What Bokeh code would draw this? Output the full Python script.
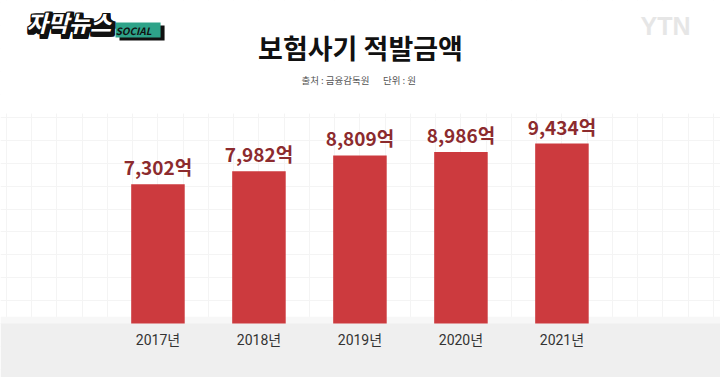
from bokeh.plotting import figure
from bokeh.models import ColumnDataSource, Range1d, Label, BoxAnnotation, Grid, SingleIntervalTicker
from bokeh.core.properties import value
from bokeh.embed import file_html
from bokeh.resources import INLINE

# ---- data ----
years = ["2017년", "2018년", "2019년", "2020년", "2021년"]
amounts = [7302, 7982, 8809, 8986, 9434]   # 억 원
value_labels = [f"{v:,}억" for v in amounts]
title_text = "보험사기 적발금액"
source_text = "출처 : 금융감독원"
unit_text = "단위 : 원"

W, H = 720, 377
KR = "Noto Sans CJK KR, Noto Sans, sans-serif"
YR = "Roboto, Noto Sans CJK KR, sans-serif"

src = ColumnDataSource(dict(x=list(range(len(years))), year=years, amount=amounts, lab=value_labels))

p = figure(width=W, height=H, output_backend="svg", toolbar_location=None,
           x_range=Range1d(-1.559, 5.570), y_range=Range1d(-2830, 16929),
           x_axis_type=None, y_axis_type=None, min_border=0,
           background_fill_color="white", border_fill_color="white",
           outline_line_color=None)
p.grid.visible = False

# faint background grid
gx = Grid(dimension=0, ticker=SingleIntervalTicker(interval=0.25), grid_line_color="#f4f4f4", level="image")
gy = Grid(dimension=1, ticker=SingleIntervalTicker(interval=1200), grid_line_color="#f4f4f4", level="image")
p.add_layout(gx)
p.add_layout(gy)
p.add_layout(BoxAnnotation(bottom=11000, fill_color="white", fill_alpha=1, line_color=None, level="underlay"))
p.add_layout(BoxAnnotation(bottom=0, top=350, fill_color="#f7f7f7", fill_alpha=1, line_color=None, level="underlay"))
p.add_layout(BoxAnnotation(top=0, fill_color="#efefef", fill_alpha=1, line_color=None, level="underlay"))

# bars
p.vbar(x="x", top="amount", bottom=0, width=0.53, source=src, fill_color="#cc3a3e", line_color=None)

# value labels
p.text(x="x", y="amount", text="lab", source=src, text_align="center", text_baseline="bottom",
       y_offset=-4, text_font=value(KR), text_font_size="19px", text_font_style="bold",
       text_color="#8c2b2e")

# year labels
p.text(x="x", y=0, text="year", source=src, text_align="center", text_baseline="top",
       y_offset=8, text_font=value(YR), text_font_size="14px", text_color="#333333")

def add_label(text, xs, ys, **kw):
    p.add_layout(Label(x=xs, y=H - ys, x_units="screen", y_units="screen", text=text, **kw))

# title & subtitle
add_label(title_text, 360, 47, text_align="center", text_baseline="middle", text_font=KR,
          text_font_size="27px", text_font_style="bold", text_color="#111111")
add_label(source_text, 335, 79, text_align="center", text_baseline="middle", text_font=KR,
          text_font_size="9.5px", text_color="#555555")
add_label(unit_text, 399, 79, text_align="center", text_baseline="middle", text_font=KR,
          text_font_size="9.5px", text_color="#555555")

# YTN watermark
add_label("YTN", 640, 25, text_align="left", text_baseline="alphabetic", text_font="Liberation Sans",
          text_font_size="25px", text_font_style="bold", text_color="#e6e6e6")

# logo: SOCIAL badge with shadow
add_label("  SOCIAL  ", 119, 25, text_align="left", text_baseline="top", text_font=KR,
          text_font_size="10px", text_font_style="bold italic", text_color="#111111",
          background_fill_color="#111111")
add_label("  SOCIAL  ", 115, 22, text_align="left", text_baseline="top", text_font=KR,
          text_font_size="10px", text_font_style="bold italic", text_color="#111111",
          background_fill_color="#2ea389")

# logo: 자막뉴스 with black 3D shadow
for dx in (-1, 0, 1, 2, 3, 4):
    for dy in (-1, 0, 1, 2, 3, 4, 5):
        add_label("자막뉴스", 26 + dx, 4 + dy, text_align="left", text_baseline="top", text_font=KR,
                  text_font_size="23px", text_font_style="bold italic", text_color="#111111")
add_label("자막뉴스", 26, 4, text_align="left", text_baseline="top", text_font=KR,
          text_font_size="23px", text_font_style="bold italic", text_color="white")

open("out.html", "w").write(file_html(p, INLINE))
